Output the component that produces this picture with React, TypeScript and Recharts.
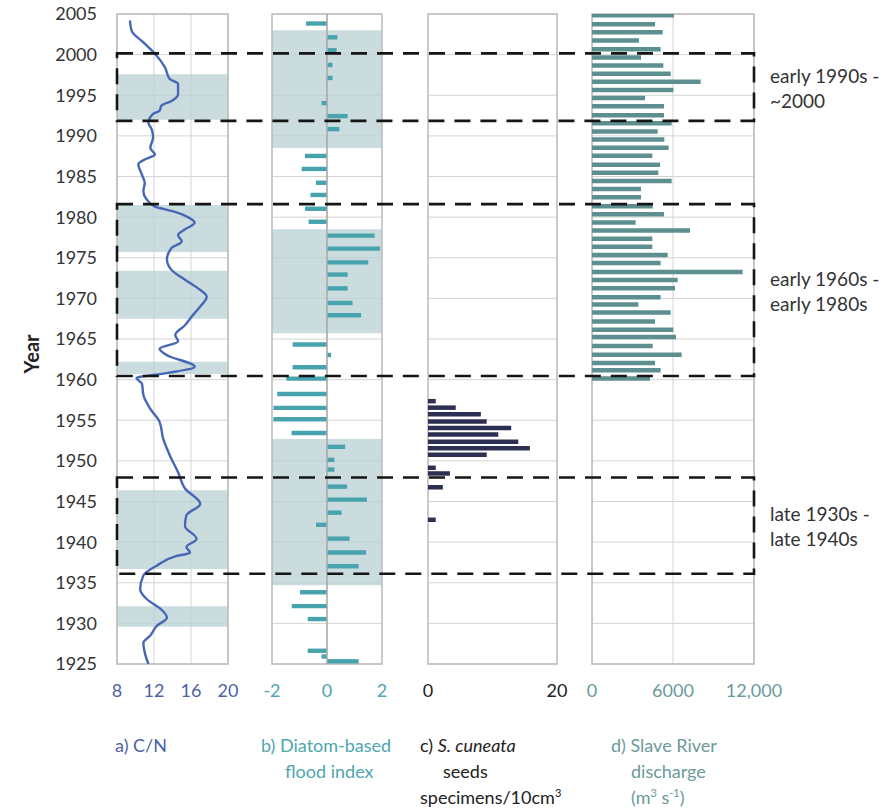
import React from 'react';
import { ComposedChart, Bar, Line, XAxis, YAxis, CartesianGrid, ReferenceArea, ReferenceLine } from 'recharts';

const FONT = 'Lato, "Open Sans", sans-serif';

// ---- shared year axis ----
const yearTicks = [1925, 1930, 1935, 1940, 1945, 1950, 1955, 1960, 1965, 1970, 1975, 1980, 1985, 1990, 1995, 2000, 2005];

// ---- a) C/N ----
const cnTicks = [8, 12, 16, 20];
const cnYears = [2004.2, 2002.9, 2001.5, 2000.1, 1998.4, 1997.0, 1996.4, 1995.1, 1994.3, 1993.7, 1993.1, 1992.7, 1991.6, 1990.8, 1989.8, 1988.5, 1987.7, 1987.1, 1986.5, 1985.2, 1984.2, 1983.2, 1982.2, 1981.3, 1980.7, 1980.1, 1979.3, 1978.5, 1977.8, 1977.0, 1976.2, 1974.8, 1973.5, 1972.3, 1971.2, 1970.2, 1969.0, 1968.0, 1966.7, 1965.5, 1964.7, 1963.8, 1963.0, 1961.6, 1960.8, 1960.2, 1959.5, 1958.1, 1956.4, 1954.8, 1952.7, 1950.7, 1948.6, 1946.6, 1944.7, 1943.3, 1942.0, 1940.4, 1939.4, 1938.7, 1938.3, 1937.1, 1935.9, 1934.2, 1933.0, 1931.7, 1930.7, 1929.7, 1928.5, 1927.6, 1926.4, 1925.0];
const cnValues = [9.4, 9.6, 10.85, 12.1, 13.2, 13.7, 14.6, 14.6, 13.9, 12.8, 12.6, 11.9, 11.4, 11.75, 11.9, 11.6, 12.1, 11.0, 10.3, 10.7, 11.0, 10.85, 11.2, 12.1, 14.1, 15.5, 16.4, 15.35, 14.6, 15.0, 13.9, 13.4, 13.9, 15.35, 16.8, 17.7, 17.0, 16.25, 15.35, 14.3, 14.6, 12.6, 13.4, 16.4, 13.4, 10.1, 10.7, 10.85, 11.6, 12.6, 13.0, 13.7, 14.6, 15.35, 17.0, 15.5, 15.35, 16.6, 15.5, 15.9, 14.45, 12.3, 10.85, 10.5, 11.2, 12.8, 13.4, 12.3, 11.6, 10.85, 11.0, 11.4];
const cnShadeFrom = [1997.6, 1981.5, 1973.4, 1962.2, 1946.4, 1932.1];
const cnShadeTo = [1992.0, 1975.7, 1967.5, 1960.7, 1936.7, 1929.6];

// ---- b) Diatom-based flood index ----
const floodTicks = [-2, 0, 2];
const floodYears = [2003.8, 2002.1, 2000.5, 1998.7, 1997.1, 1994.0, 1992.4, 1990.8, 1987.5, 1985.9, 1984.2, 1982.7, 1981.0, 1979.4, 1977.7, 1976.1, 1974.4, 1972.9, 1971.2, 1969.4, 1967.9, 1964.3, 1963.0, 1961.5, 1960.1, 1958.2, 1956.5, 1955.1, 1953.4, 1951.7, 1950.1, 1948.9, 1946.8, 1945.2, 1943.6, 1942.1, 1940.4, 1938.7, 1937.0, 1933.8, 1932.1, 1930.5, 1926.6, 1925.9, 1925.3];
const floodValues = [-0.76, 0.38, 0.35, 0.2, 0.2, -0.2, 0.75, 0.45, -0.8, -0.92, -0.4, -0.6, -0.8, -0.67, 1.73, 1.93, 1.5, 0.75, 0.75, 0.93, 1.24, -1.25, 0.15, -1.25, -1.48, -1.81, -1.95, -1.95, -1.29, 0.66, 0.27, 0.27, 0.73, 1.45, 0.53, -0.4, 0.82, 1.42, 1.15, -0.98, -1.28, -0.7, -0.7, -0.2, 1.15];
const floodShadeFrom = [2003.0, 1978.5, 1952.7];
const floodShadeTo = [1988.5, 1965.7, 1934.7];

// ---- c) S. cuneata seeds ----
const seedTicks = [0, 20];
const seedYears = [1957.4, 1956.6, 1955.8, 1954.9, 1954.1, 1953.3, 1952.4, 1951.6, 1950.8, 1949.2, 1948.5, 1946.8, 1942.8];
const seedValues = [1.2, 4.3, 8.2, 9.1, 12.9, 10.9, 14.0, 15.8, 9.1, 1.2, 3.4, 2.3, 1.2];

// ---- d) Slave River discharge ----
const dischargeTicks = [0, 6000, 12000];
const dischargeYears = [2004.8, 2003.7, 2002.7, 2001.7, 2000.6, 1999.6, 1998.6, 1997.6, 1996.6, 1995.6, 1994.6, 1993.6, 1992.5, 1991.5, 1990.5, 1989.5, 1988.5, 1987.5, 1986.4, 1985.4, 1984.4, 1983.4, 1982.4, 1981.3, 1980.3, 1979.3, 1978.3, 1977.3, 1976.3, 1975.3, 1974.3, 1973.2, 1972.2, 1971.2, 1970.1, 1969.2, 1968.2, 1967.1, 1966.1, 1965.2, 1964.1, 1963.0, 1962.0, 1961.1, 1960.1];
const dischargeValues = [6074, 4667, 5235, 3481, 5086, 3630, 5284, 5827, 8049, 6025, 3926, 5333, 5333, 5901, 4864, 5358, 5679, 4469, 5037, 4914, 5901, 3630, 3630, 4500, 5333, 3234, 7259, 4469, 4469, 5605, 5086, 11160, 6346, 6148, 5086, 3432, 5827, 4667, 6025, 6222, 4494, 6642, 4667, 5086, 4296];

// ---- period boxes ----
const periodFrom = [2000.15, 1981.6, 1947.95];
const periodTo = [1991.85, 1960.45, 1936.1];
const periodLine1 = ['early 1990s -', 'early 1960s -', 'late 1930s -'];
const periodLine2 = ['~2000', 'early 1980s', 'late 1940s'];

const cnData = cnYears.map((year, i) => ({ year, cn: cnValues[i] }));
const floodData = floodYears.map((year, i) => ({ year, flood: floodValues[i] }));
const seedData = seedYears.map((year, i) => ({ year, seeds: seedValues[i] }));
const dischargeData = dischargeYears.map((year, i) => ({ year, discharge: dischargeValues[i] }));
const frameData = [{ x: 0, y: 1925 }, { x: 1, y: 2005 }];

const TOP = 14;
const AXIS_H = 56;
const CHART_H = 720;
const SHADE = '#b9d0d4';
const GRID = '#d4d4d4';
const BORDER = '#bdbdbd';

type PanelProps = {
  plotLeft: number;
  plotWidth: number;
  data: any[];
  domain: [number, number];
  ticks: number[];
  tickColor: string;
  showYears?: boolean;
  vertical?: boolean;
  tickFormatter?: (v: number) => string;
  children?: React.ReactNode;
};

function Panel({ plotLeft, plotWidth, data, domain, ticks, tickColor, showYears, vertical = true, tickFormatter, children }: PanelProps) {
  const mL = showYears ? 0 : 30;
  const yW = showYears ? plotLeft : 0;
  const mR = 40;
  const chartLeft = showYears ? 0 : plotLeft - mL;
  return (
    <div style={{ position: 'absolute', left: chartLeft, top: 0 }}>
      <ComposedChart
        layout="vertical"
        width={plotWidth + mL + yW + mR}
        height={CHART_H}
        data={data}
        margin={{ top: TOP, right: mR, bottom: 0, left: mL }}
      >
        <CartesianGrid stroke={GRID} strokeWidth={1} horizontal vertical={vertical} />
        <XAxis
          type="number"
          domain={domain}
          ticks={ticks}
          interval={0}
          allowDataOverflow
          height={AXIS_H}
          tickSize={0}
          tickMargin={20}
          axisLine={false}
          tickLine={false}
          tick={{ fill: tickColor, fontSize: 18, fontFamily: FONT }}
          tickFormatter={tickFormatter}
        />
        <YAxis
          type="number"
          dataKey="year"
          domain={[1925, 2005]}
          ticks={yearTicks}
          interval={0}
          allowDataOverflow
          reversed
          hide={!showYears}
          width={yW || 60}
          tickSize={0}
          tickMargin={20}
          axisLine={false}
          tickLine={false}
          tick={{ fill: '#333333', fontSize: 18, fontFamily: FONT }}
        />
        {children}
        <ReferenceArea x1={domain[0]} x2={domain[1]} y1={1925} y2={2005} fill="none" stroke={BORDER} strokeWidth={1.6} ifOverflow="visible" />
      </ComposedChart>
    </div>
  );
}

const labelBase: React.CSSProperties = {
  position: 'absolute',
  top: 732,
  fontFamily: FONT,
  fontSize: 18,
  lineHeight: '26px',
  whiteSpace: 'nowrap',
};

const sup: React.CSSProperties = { fontSize: 11, verticalAlign: 'super', lineHeight: 0 };

export default function App() {
  return (
    <div style={{ position: 'absolute', left: 0, top: 0, width: 885, height: 809, background: '#ffffff', overflow: 'hidden' }}>
      {/* a) C/N */}
      <Panel plotLeft={117} plotWidth={111} data={cnData} domain={[8, 20]} ticks={cnTicks} tickColor="#4d62a6" showYears>
        {cnShadeFrom.map((f, i) => (
          <ReferenceArea key={'cs' + i} y1={cnShadeTo[i]} y2={f} fill={SHADE} fillOpacity={0.75} stroke="none" />
        ))}
        <Line dataKey="cn" type="monotone" stroke="#4767b6" strokeWidth={2.4} dot={false} isAnimationActive={false} />
      </Panel>

      {/* b) flood index */}
      <Panel plotLeft={272} plotWidth={110} data={floodData} domain={[-2, 2]} ticks={floodTicks} tickColor="#4ea6ae" vertical={false}>
        {floodShadeFrom.map((f, i) => (
          <ReferenceArea key={'fs' + i} y1={floodShadeTo[i]} y2={f} fill={SHADE} fillOpacity={0.75} stroke="none" />
        ))}
        <ReferenceLine x={0} stroke="#a9a9a9" strokeWidth={1.6} />
        <Bar dataKey="flood" fill="#47a3ad" barSize={6} isAnimationActive={false} />
      </Panel>

      {/* c) S. cuneata */}
      <Panel plotLeft={428} plotWidth={129} data={seedData} domain={[0, 20]} ticks={seedTicks} tickColor="#222222" vertical={false}>
        <Bar dataKey="seeds" fill="#2d2f52" barSize={4.5} isAnimationActive={false} />
      </Panel>

      {/* d) discharge */}
      <Panel
        plotLeft={592}
        plotWidth={162}
        data={dischargeData}
        domain={[0, 12000]}
        ticks={dischargeTicks}
        tickColor="#6a9a9a"
        tickFormatter={(v: number) => (v === 12000 ? '12,000' : String(v))}
      >
        <Bar dataKey="discharge" fill="#5e8f90" barSize={4.5} isAnimationActive={false} />
      </Panel>

      {/* dashed period boxes */}
      <div style={{ position: 'absolute', left: 0, top: 0, pointerEvents: 'none' }}>
        <ComposedChart width={885} height={CHART_H} data={frameData} margin={{ top: TOP, right: 885 - 754, bottom: AXIS_H, left: 117 }}>
          <XAxis type="number" dataKey="x" domain={[0, 1]} hide />
          <YAxis type="number" domain={[1925, 2005]} hide />
          <Line dataKey="y" stroke="none" dot={false} isAnimationActive={false} />
          {periodFrom.map((f, i) => (
            <ReferenceArea
              key={'pb' + i}
              x1={0}
              x2={1}
              y1={periodTo[i]}
              y2={f}
              fill="none"
              stroke="#151515"
              strokeWidth={2.6}
              strokeDasharray="16 10"
              ifOverflow="visible"
              label={(p: any) => {
                const vb = p.viewBox || {};
                const x = vb.x + vb.width + 16;
                const cy = vb.y + vb.height / 2;
                return (
                  <text x={x} y={cy} fill="#333333" fontSize={19} fontFamily={FONT}>
                    <tspan x={x} y={cy - 12} dominantBaseline="central">{periodLine1[i]}</tspan>
                    <tspan x={x} y={cy + 13} dominantBaseline="central">{periodLine2[i]}</tspan>
                  </text>
                );
              }}
            />
          ))}
        </ComposedChart>
      </div>

      {/* Year axis title */}
      <div
        style={{
          position: 'absolute',
          left: 31,
          top: 354,
          transform: 'translate(-50%, -50%) rotate(-90deg)',
          fontFamily: FONT,
          fontWeight: 700,
          fontSize: 20,
          color: '#222222',
        }}
      >
        Year
      </div>

      {/* panel captions */}
      <div style={{ ...labelBase, left: 115, color: '#4d62a6' }}>a) C/N</div>
      <div style={{ ...labelBase, left: 261, color: '#4ea6ae' }}>
        b) Diatom-based
        <br />
        <span style={{ marginLeft: 24 }}>flood index</span>
      </div>
      <div style={{ ...labelBase, left: 420, color: '#222222' }}>
        c) <i>S. cuneata</i>
        <br />
        <span style={{ marginLeft: 23 }}>seeds</span>
        <br />
        specimens/10cm<span style={sup}>3</span>
      </div>
      <div style={{ ...labelBase, left: 611, color: '#6a9a9a' }}>
        d) Slave River
        <br />
        <span style={{ marginLeft: 20 }}>discharge</span>
        <br />
        <span style={{ marginLeft: 20 }}>
          (m<span style={sup}>3</span> s<span style={sup}>-1</span>)
        </span>
      </div>
    </div>
  );
}
